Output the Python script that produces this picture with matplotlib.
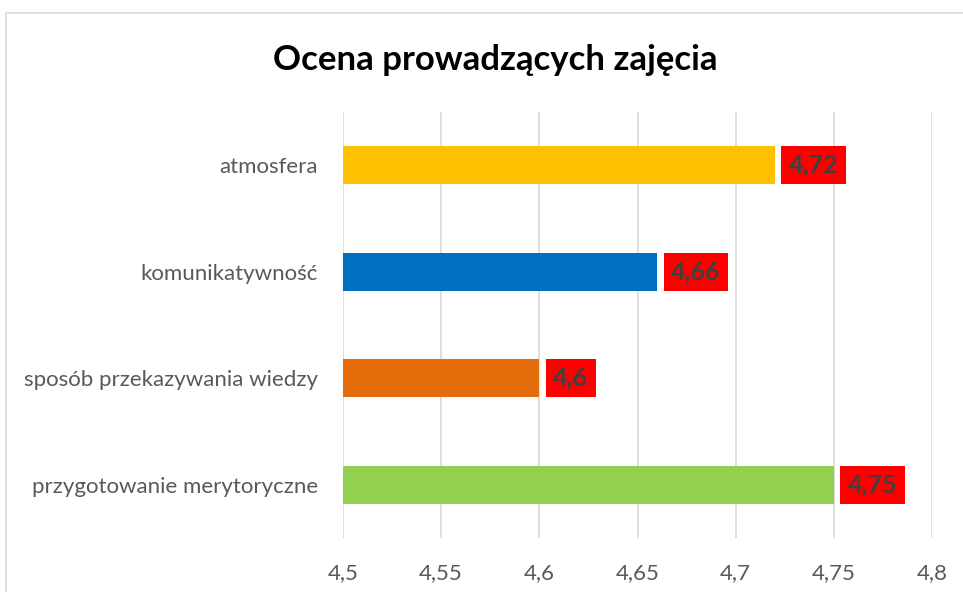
import matplotlib.pyplot as plt
from matplotlib.patches import Rectangle
from matplotlib.ticker import FuncFormatter

plt.rcParams['font.family'] = ['Lato', 'DejaVu Sans']

categories = ['przygotowanie merytoryczne', 'sposób przekazywania wiedzy',
              'komunikatywność', 'atmosfera']
values = [4.75, 4.6, 4.66, 4.72]
colors = ['#92D050', '#E46C0A', '#0070C0', '#FFC000']
xticks = [4.5, 4.55, 4.6, 4.65, 4.7, 4.75, 4.8]

fig = plt.figure(figsize=(9.63, 5.92), dpi=100)
ax = fig.add_axes([0.356, 0.091, 0.612, 0.72])

# chart border (cut off on the right and bottom like the screenshot)
fig.patches.append(Rectangle((6 / 963, -0.05), 1.0, 1 - 13 / 592 + 0.05,
                             transform=fig.transFigure, fill=False,
                             edgecolor='#D9D9D9', linewidth=1.2))

y = range(len(categories))
ax.barh(y, [v - 4.5 for v in values], left=4.5, height=0.36, color=colors, zorder=3)

for i, v in enumerate(values):
    lbl = str(v).replace('.', ',')
    ax.annotate(lbl, (v, i), xytext=(10, 0), textcoords='offset points',
                va='center', ha='left', fontsize=18, fontweight='bold',
                color='#404040', zorder=4,
                bbox=dict(boxstyle='square,pad=0.3', facecolor='#FF0000',
                          edgecolor='none'))

ax.set_xlim(4.5, 4.8)
ax.set_ylim(-0.5, 3.5)
ax.set_xticks(xticks)
ax.xaxis.set_major_formatter(FuncFormatter(lambda x, p: ('%g' % x).replace('.', ',')))
ax.set_yticks(list(y))
ax.set_yticklabels(categories)
ax.grid(axis='x', color='#D9D9D9', linewidth=1.2, zorder=0)
for s in ax.spines.values():
    s.set_visible(False)
ax.tick_params(axis='both', length=0, labelsize=16, colors='#595959')
ax.tick_params(axis='x', pad=18)
ax.tick_params(axis='y', pad=18)

fig.suptitle('Ocena prowadzących zajęcia', x=0.514, y=0.926, fontsize=25,
             fontweight='bold', color='black')

fig.savefig('out.png', dpi=100)
